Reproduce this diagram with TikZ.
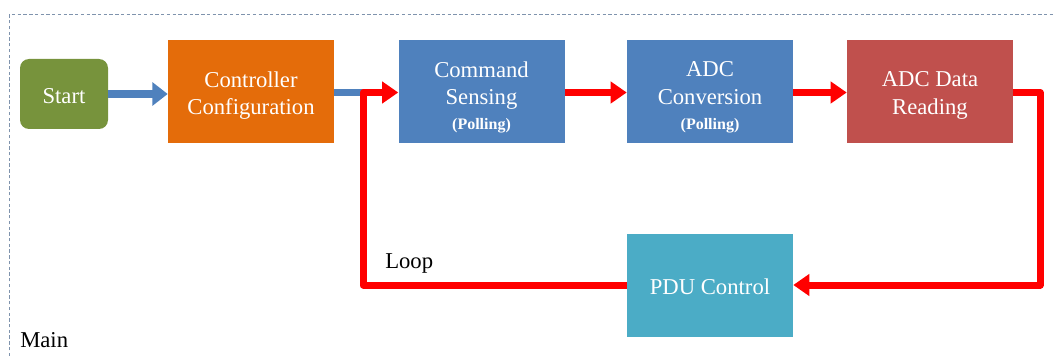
\documentclass[tikz,border=0pt]{standalone}
\usepackage{fontspec}
\setmainfont{Liberation Serif}
\newfontfamily\diagfont{Liberation Serif}
\usetikzlibrary{arrows.meta}

\definecolor{startgreen}{HTML}{77933C}
\definecolor{cfgorange}{HTML}{E46C0A}
\definecolor{stepblue}{HTML}{4F81BD}
\definecolor{readred}{HTML}{C0504D}
\definecolor{pduteal}{HTML}{4BACC6}
\definecolor{framegray}{HTML}{7F93AD}
\definecolor{loopred}{HTML}{FF0000}

\tikzset{
  block/.style={draw=none, inner sep=0pt,
    minimum width=124.5pt, minimum height=77.25pt},
  startbox/.style={block, fill=startgreen, rounded corners=6.75pt,
    minimum width=66pt, minimum height=52.5pt},
  blocktext/.style={inner sep=0pt, align=center, text=white,
    font=\diagfont\fontsize{17}{20.5}\selectfont},
  flowblue/.style={draw=stepblue, line width=6pt,
    -{Triangle[width=17pt,length=11.5pt]}},
  flowred/.style={draw=loopred, line width=5.25pt, line join=round,
    -{Triangle[width=15.75pt,length=12pt]}},
  plainlabel/.style={inner sep=0pt, anchor=west, text=black,
    font=\diagfont\fontsize{17}{20.5}\selectfont},
}
\newcommand{\pollnote}{{\fontsize{12}{14}\selectfont\bfseries (Polling)}}

\begin{document}
\begin{tikzpicture}[x=0.75pt, y=-0.75pt]
  \useasboundingbox (0,0) rectangle (1055,356);

  % dashed outline of the "Main" region
  \draw[framegray, line width=0.75pt, dash pattern=on 2.5pt off 1.8pt]
    (9,356) -- (9,15) -- (1055,15);

  % processing blocks
  \node[startbox] (start) at (64,94) {};
  \node[block, fill=cfgorange] (cfg) at (251,91.5) {};
  \node[block, fill=stepblue] (cmd) at (481.5,91.5) {};
  \node[block, fill=stepblue] (adc) at (710,91.5) {};
  \node[block, fill=readred] (rd) at (930,91.5) {};
  \node[block, fill=pduteal] (pdu) at (710,285) {};

  % block captions
  \node[blocktext] (startt) at ([yshift=-1.5pt]start.center) {Start};
  \node[blocktext] (cfgt) at ([yshift=-3pt]cfg.center) {Controller\\Configuration};
  \node[blocktext] (cmdt) at ([yshift=-4.5pt]cmd.center)
    {Command\\Sensing\\[-1.5pt]\pollnote};
  \node[blocktext] (adct) at ([yshift=-4.5pt]adc.center)
    {ADC\\Conversion\\[-1.5pt]\pollnote};
  \node[blocktext] (rdt) at ([yshift=-3pt]rd.center) {ADC Data\\Reading};
  \node[blocktext] (pdut) at ([yshift=-1.5pt]pdu.center) {PDU Control};

  % labels
  \node[plainlabel] (looplbl) at (385,263) {Loop};
  \node[plainlabel] (mainlbl) at (20,340) {Main};

  % routing points of the loop
  \coordinate (loopx) at (363,92.5);
  \coordinate (rightx) at (1040,92.5);

  % start-up path
  \draw[flowblue] (start.east) -- (cfg.west |- start.east);
  \draw[draw=stepblue, line width=5.25pt] (cfg.east |- loopx) -- ([xshift=2]loopx);

  % main loop
  \draw[flowred] (cmd.east |- loopx) -- (adc.west |- loopx);
  \draw[flowred] (adc.east |- loopx) -- (rd.west |- loopx);
  \draw[flowred] (rd.east |- rightx) -- (rightx) |- (pdu.east);
  \draw[flowred] (pdu.west) -| (loopx) -- (cmd.west |- loopx);
\end{tikzpicture}
\end{document}
